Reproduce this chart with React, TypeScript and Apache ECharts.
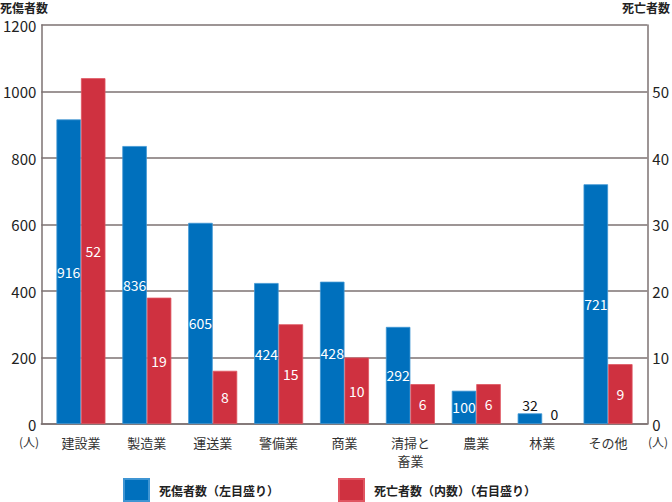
import React, { useEffect, useRef } from "react";
import * as echarts from "echarts";

const categories = ["建設業", "製造業", "運送業", "警備業", "商業", "清掃と\n畜業", "農業", "林業", "その他"];
const casualties = [916, 836, 605, 424, 428, 292, 100, 32, 721];
const deaths = [52, 19, 8, 15, 10, 6, 6, 0, 9];
const leftTicks = { min: 0, max: 1200, interval: 200 };
const rightTicks = { min: 0, max: 60, interval: 10 };
const seriesNames = ["死傷者数（左目盛り）", "死亡者数（内数）（右目盛り）"];

const FONT = "'Noto Sans CJK JP', 'Noto Sans', sans-serif";
const BLUE = "#0070bd";
const RED = "#cf3140";
const LINE = "#7d7272";

export default function App() {
  const ref = useRef<HTMLDivElement>(null);
  useEffect(() => {
    if (!ref.current) return;
    const chart = echarts.init(ref.current, undefined, { renderer: "svg" });
    const smallLabel = (v: number, outsideLimit: number, max: number) => v / max * 399 < outsideLimit;
    chart.setOption({
      animation: false,
      textStyle: { fontFamily: FONT },
      grid: [
        { left: 39, right: 24, top: 25, bottom: 78 },
        { left: 48, right: 31, top: 25, bottom: 78 },
      ],
      xAxis: [
        {
          gridIndex: 0, type: "value", min: 0, max: 1,
          axisLine: { show: true, onZero: false, lineStyle: { color: LINE, width: 1.5 } },
          axisTick: { show: false }, axisLabel: { show: false }, splitLine: { show: false },
        },
        {
          gridIndex: 1, type: "category", data: categories,
          axisLine: { show: false }, axisTick: { show: false },
          axisLabel: { color: "#333", fontSize: 13, margin: 9, lineHeight: 18, fontFamily: FONT },
        },
      ],
      yAxis: [
        {
          gridIndex: 0, type: "value", ...leftTicks, position: "left",
          axisLine: { show: true, lineStyle: { color: LINE, width: 1.5 } },
          axisTick: { show: false },
          axisLabel: { color: "#222", fontSize: 15, margin: 5, fontFamily: FONT, formatter: (v: number) => String(v) },
          splitLine: { show: true, lineStyle: { color: LINE, width: 1.5 } },
        },
        {
          gridIndex: 0, type: "value", ...rightTicks, position: "right",
          axisLine: { show: true, lineStyle: { color: LINE, width: 1.5 } },
          axisTick: { show: false },
          axisLabel: {
            color: "#222", fontSize: 15, margin: 5, fontFamily: FONT,
            formatter: (v: number) => (v === 60 ? "" : String(v)),
          },
          splitLine: { show: false },
        },
        { gridIndex: 1, type: "value", ...leftTicks, show: false },
        { gridIndex: 1, type: "value", ...rightTicks, show: false },
      ],
      legend: [
        {
          left: 123, top: 478, itemWidth: 25, itemHeight: 22, icon: "rect", padding: 0,
          data: [seriesNames[0]],
          textStyle: { color: "#222", fontSize: 12, fontWeight: "bold", padding: [0, 0, 0, 5], fontFamily: FONT },
        },
        {
          left: 338, top: 478, itemWidth: 25, itemHeight: 22, icon: "rect", padding: 0,
          data: [seriesNames[1]],
          textStyle: { color: "#222", fontSize: 12, fontWeight: "bold", padding: [0, 0, 0, 5], fontFamily: FONT },
        },
      ],
      series: [
        {
          name: seriesNames[0], type: "bar", xAxisIndex: 1, yAxisIndex: 2,
          barWidth: 24.5, barGap: "0%",
          itemStyle: { color: BLUE, borderColor: "#3f95d3", borderWidth: 0.8 },
          data: casualties.map((v) =>
            smallLabel(v, 20, 1200)
              ? { value: v, label: { position: "top", color: "#111", distance: 1 } }
              : v
          ),
          label: { show: true, position: "inside", color: "#fff", fontSize: 14, fontFamily: FONT },
        },
        {
          name: seriesNames[1], type: "bar", xAxisIndex: 1, yAxisIndex: 3,
          barWidth: 24.5, barGap: "0%",
          itemStyle: { color: RED, borderColor: "#e05561", borderWidth: 0.8 },
          data: deaths.map((v) =>
            v === 0
              ? { value: v, itemStyle: { borderWidth: 0 }, label: { position: "top", color: "#111", distance: 3 } }
              : smallLabel(v, 20, 60)
              ? { value: v, label: { position: "top", color: "#111", distance: 1 } }
              : v
          ),
          label: { show: true, position: "inside", color: "#fff", fontSize: 14, fontFamily: FONT },
        },
      ],
      graphic: [
        { type: "text", left: 0, top: 1, style: { text: "死傷者数", fontSize: 12, fontWeight: "bold", fill: "#222", fontFamily: FONT } },
        { type: "text", right: 2, top: 1, style: { text: "死亡者数", fontSize: 12, fontWeight: "bold", fill: "#222", fontFamily: FONT } },
        { type: "text", left: 19, top: 435, style: { text: "(人)", fontSize: 12, fill: "#333", fontFamily: FONT } },
        { type: "text", left: 648, top: 435, style: { text: "(人)", fontSize: 12, fill: "#333", fontFamily: FONT } },
      ],
    });
    return () => chart.dispose();
  }, []);
  return <div ref={ref} style={{ width: 672, height: 502, position: "absolute", left: 0, top: 0 }} />;
}
